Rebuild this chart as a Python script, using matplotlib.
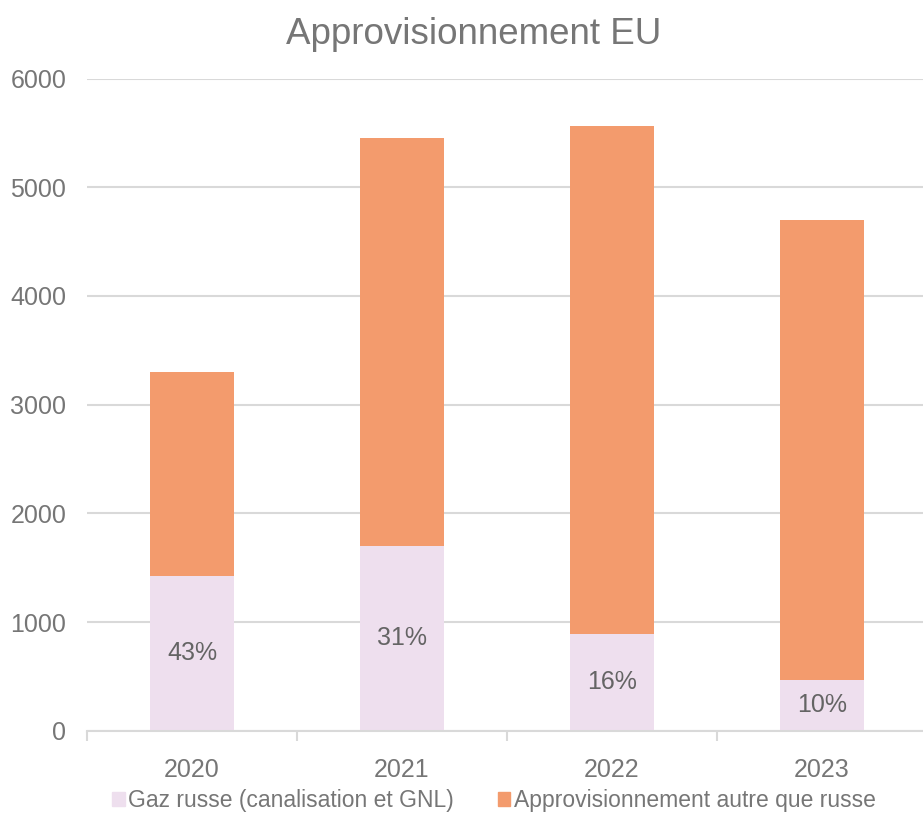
import numpy as np
import matplotlib
matplotlib.use('Agg')
import matplotlib.pyplot as plt
from matplotlib.patches import Patch

plt.rcParams['font.family'] = ['Liberation Sans', 'DejaVu Sans']

years = ['2020', '2021', '2022', '2023']
russe = [1423, 1699, 890, 466]
autre = [1877, 3754, 4673, 4232]
parts = ['43%', '31%', '16%', '10%']

c_russe = '#EEDFEE'
c_autre = '#F39B6D'
txt_c = '#767676'
lbl_c = '#646464'
grid_c = '#D9D9D9'

W, H = 923, 826
fig = plt.figure(figsize=(W / 100, H / 100), dpi=100)
ax = fig.add_axes([87 / W, 1 - 730.7 / H, 840 / W, 652.2 / H])

x = np.arange(len(years))
ax.bar(x, russe, width=0.4, color=c_russe, zorder=2)
ax.bar(x, autre, width=0.4, bottom=russe, color=c_autre, zorder=2)

for xi, r, p in zip(x, russe, parts):
    ax.text(xi, r / 2, p, ha='center', va='center', fontsize=18, color=lbl_c, zorder=3)

ax.set_xlim(-0.5, 3.5)
ax.set_ylim(0, 6000)
ax.set_yticks(range(0, 6001, 1000))
ax.yaxis.grid(True, color=grid_c, lw=1.5, zorder=0)
ax.set_axisbelow(True)
for s in ['top', 'right', 'left']:
    ax.spines[s].set_visible(False)
ax.spines['bottom'].set_color(grid_c)
ax.spines['bottom'].set_linewidth(1.5)

ax.set_xticks(x)
ax.set_xticklabels(years)
ax.set_xticks(np.arange(-0.5, 4, 1), minor=True)
ax.tick_params(axis='x', which='major', length=0, pad=20, labelsize=18, labelcolor=txt_c)
ax.tick_params(axis='x', which='minor', length=7, width=1.5, color=grid_c, direction='out')
ax.tick_params(axis='y', length=0, pad=15, labelsize=18, labelcolor=txt_c)

fig.text(0.513, 1 - 35 / H, 'Approvisionnement EU', ha='center', va='center',
         fontsize=26.5, color=txt_c)

handles = [Patch(color=c_russe, label='Gaz russe (canalisation et GNL)'),
           Patch(color=c_autre, label='Approvisionnement autre que russe')]
fig.legend(handles=handles, loc='center', bbox_to_anchor=(0.535, 1 - 801 / H), ncol=2,
           frameon=False, fontsize=16.5, labelcolor=txt_c, handlelength=0.55,
           handleheight=0.55, handletextpad=0.15, columnspacing=1.9)

fig.savefig('out.png', dpi=100)
